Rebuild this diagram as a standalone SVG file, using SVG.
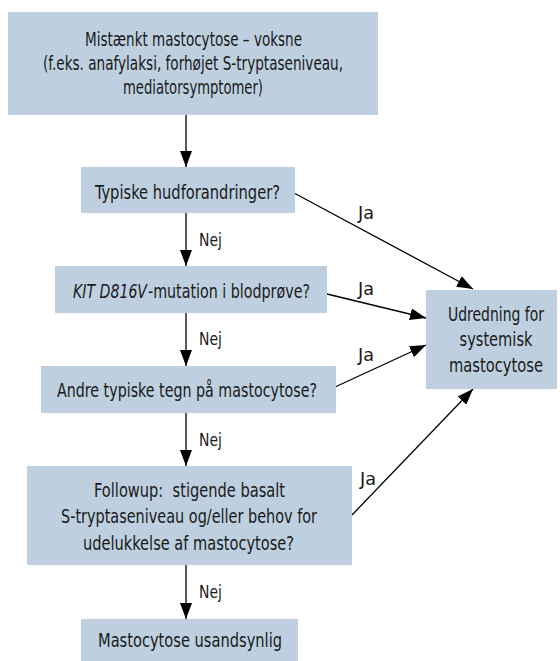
<svg xmlns="http://www.w3.org/2000/svg" width="560" height="661" viewBox="0 0 560 661">
<defs>
<style>
.box{fill:#bed0e0;}
.t{font-family:"DejaVu Sans Condensed","DejaVu Sans",sans-serif;font-size:20px;fill:#1a1a1a;text-anchor:middle;}
.s{font-family:"DejaVu Sans Condensed","DejaVu Sans",sans-serif;font-size:20px;fill:#1a1a1a;}
.l{font-family:"DejaVu Sans Condensed","DejaVu Sans",sans-serif;font-size:18px;fill:#1a1a1a;}
.c{stroke:#000;stroke-width:1.3;fill:none;}
</style>
<marker id="av" markerWidth="16" markerHeight="12" refX="16" refY="6" orient="auto" markerUnits="userSpaceOnUse">
<path d="M0,0 L16,6 L0,12 Z" fill="#000"/>
</marker>
</defs>
<rect width="560" height="661" fill="#fff"/>
<g id="connectors">
<line class="c" x1="186" y1="115" x2="186" y2="167" marker-end="url(#av)"/>
<line class="c" x1="186" y1="213" x2="186" y2="266" marker-end="url(#av)"/>
<line class="c" x1="186" y1="313" x2="186" y2="366" marker-end="url(#av)"/>
<line class="c" x1="186" y1="413" x2="186" y2="466" marker-end="url(#av)"/>
<line class="c" x1="186" y1="565" x2="186" y2="619" marker-end="url(#av)"/>
<line class="c" x1="294" y1="193" x2="473" y2="289" marker-end="url(#av)"/>
<line class="c" x1="327" y1="294" x2="426" y2="318" marker-end="url(#av)"/>
<line class="c" x1="335" y1="387" x2="426" y2="345" marker-end="url(#av)"/>
<line class="c" x1="352" y1="515" x2="473" y2="389" marker-end="url(#av)"/>
<text class="l" transform="translate(199,246) scale(0.82,1)" textLength="28" lengthAdjust="spacingAndGlyphs">Nej</text>
<text class="l" transform="translate(199,345) scale(0.82,1)" textLength="28" lengthAdjust="spacingAndGlyphs">Nej</text>
<text class="l" transform="translate(199,446) scale(0.82,1)" textLength="28" lengthAdjust="spacingAndGlyphs">Nej</text>
<text class="l" transform="translate(199,598) scale(0.82,1)" textLength="28" lengthAdjust="spacingAndGlyphs">Nej</text>
<text class="l" transform="translate(358,219) scale(0.82,1)" textLength="19.5" lengthAdjust="spacingAndGlyphs">Ja</text>
<text class="l" transform="translate(358,295) scale(0.82,1)" textLength="19.5" lengthAdjust="spacingAndGlyphs">Ja</text>
<text class="l" transform="translate(358,361) scale(0.82,1)" textLength="19.5" lengthAdjust="spacingAndGlyphs">Ja</text>
<text class="l" transform="translate(360,485) scale(0.82,1)" textLength="19.5" lengthAdjust="spacingAndGlyphs">Ja</text>
</g>
<g id="n1">
<rect class="box" x="8" y="12" width="370" height="103"/>
<text class="t" transform="translate(193.5,46) scale(0.82,1)" textLength="264.6" lengthAdjust="spacingAndGlyphs">Mistænkt mastocytose – voksne</text>
<text class="t" transform="translate(193,70) scale(0.82,1)" textLength="365.9" lengthAdjust="spacingAndGlyphs">(f.eks. anafylaksi, forhøjet S-tryptaseniveau,</text>
<text class="t" transform="translate(193,94) scale(0.82,1)" textLength="170.7" lengthAdjust="spacingAndGlyphs">mediatorsymptomer)</text>
</g>
<g id="n2">
<rect class="box" x="81" y="167" width="214" height="46"/>
<text class="t" transform="translate(187.5,199) scale(0.82,1)" textLength="225.6" lengthAdjust="spacingAndGlyphs">Typiske hudforandringer?</text>
</g>
<g id="n3">
<rect class="box" x="55" y="266" width="272" height="47"/>
<text class="s" transform="translate(73,298) scale(0.78,1)" font-style="italic" textLength="94.9" lengthAdjust="spacingAndGlyphs">KIT D816V</text>
<text class="s" transform="translate(148,298) scale(0.78,1)" textLength="207.7" lengthAdjust="spacingAndGlyphs">-mutation i blodprøve?</text>
</g>
<g id="n4">
<rect class="box" x="41" y="366" width="295" height="47"/>
<text class="t" transform="translate(187,397) scale(0.82,1)" textLength="317.1" lengthAdjust="spacingAndGlyphs">Andre typiske tegn på mastocytose?</text>
</g>
<g id="n5">
<rect class="box" x="27" y="466" width="325" height="99"/>
<text class="t" transform="translate(189.5,497) scale(0.82,1)" textLength="232.9" lengthAdjust="spacingAndGlyphs" xml:space="preserve">Followup:  stigende basalt</text>
<text class="t" transform="translate(189,523) scale(0.82,1)" textLength="312.2" lengthAdjust="spacingAndGlyphs">S-tryptaseniveau og/eller behov for</text>
<text class="t" transform="translate(188.5,550) scale(0.82,1)" textLength="257.3" lengthAdjust="spacingAndGlyphs">udelukkelse af mastocytose?</text>
</g>
<g id="n6">
<rect class="box" x="81" y="619" width="217" height="42"/>
<text class="t" transform="translate(190,647) scale(0.82,1)" textLength="224.4" lengthAdjust="spacingAndGlyphs">Mastocytose usandsynlig</text>
</g>
<g id="n7">
<rect class="box" x="426" y="290" width="131" height="99"/>
<text class="t" transform="translate(496,321) scale(0.82,1)" textLength="117.1" lengthAdjust="spacingAndGlyphs">Udredning for</text>
<text class="t" transform="translate(496,346) scale(0.82,1)" textLength="89" lengthAdjust="spacingAndGlyphs">systemisk</text>
<text class="t" transform="translate(496,372) scale(0.82,1)" textLength="114.6" lengthAdjust="spacingAndGlyphs">mastocytose</text>
</g>
</svg>
